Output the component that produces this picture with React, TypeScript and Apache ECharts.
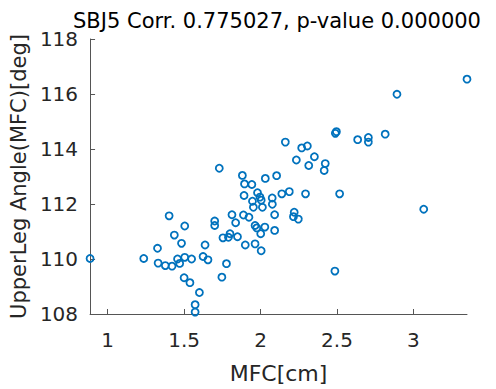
import React, { useEffect, useRef } from "react";
import * as echarts from "echarts";

const titleText = "SBJ5 Corr. 0.775027, p-value 0.000000";
const xName = "MFC[cm]";
const yName = "UpperLeg Angle(MFC)[deg]";

const mfc = [
  0.885, 1.236, 1.326, 1.402, 1.504, 1.436, 1.483, 1.33, 1.377, 1.421,
  1.457, 1.471, 1.504, 1.549, 1.5, 1.538, 1.6, 1.572, 1.572, 1.637,
  1.624, 1.656, 1.7, 1.7, 1.747, 1.777, 1.754, 1.79, 1.8, 1.849,
  1.813, 1.837, 1.888, 1.924, 1.9, 1.964, 2.004, 1.964, 1.975, 2.001,
  2.028, 2.092, 2.092, 1.892, 1.947, 1.953, 1.98, 1.996, 2.004, 2.012,
  2.076, 2.077, 2.139, 2.188, 1.895, 1.943, 2.031, 2.105, 1.881, 1.73,
  2.162, 2.269, 2.306, 2.352, 2.234, 2.315, 2.423, 2.416, 2.496, 2.489,
  2.635, 2.705, 2.705, 2.815, 2.892, 3.35, 2.294, 2.517, 3.067, 2.22,
  2.215, 2.247, 2.486,
];

const angle = [
  110.02, 110.02, 110.39, 111.57, 111.2, 110.87, 110.57, 109.85, 109.76, 109.74,
  110.0, 109.84, 110.06, 110.0, 109.32, 109.14, 108.78, 108.34, 108.07, 110.51,
  110.09, 109.97, 111.38, 111.22, 109.34, 109.83, 110.77, 110.79, 110.92, 110.81,
  111.61, 111.32, 111.6, 111.52, 110.51, 110.55, 110.3, 111.22, 111.13, 110.92,
  111.16, 111.04, 111.61, 112.31, 112.1, 111.88, 112.41, 112.25, 112.14, 111.88,
  112.22, 111.99, 112.37, 112.45, 112.73, 112.71, 112.93, 113.03, 113.04, 113.3,
  114.25, 114.04, 114.11, 113.72, 113.6, 113.4, 113.47, 113.22, 114.63, 114.57,
  114.34, 114.42, 114.25, 114.54, 115.99, 116.54, 112.37, 112.37, 111.81, 111.7,
  111.54, 111.45, 109.56,
];

const xTicks = [1, 1.5, 2, 2.5, 3];
const yTicks = [108, 110, 112, 114, 116, 118];

const FONT = "'DejaVu Sans', sans-serif";

export default function App() {
  const ref = useRef<HTMLDivElement>(null);
  useEffect(() => {
    if (!ref.current) return;
    const chart = echarts.init(ref.current, undefined, { renderer: "svg" });
    const xMin = Math.min(...mfc);
    const xMax = Math.max(...mfc);
    chart.setOption({
      animation: false,
      backgroundColor: "#ffffff",
      title: {
        text: titleText,
        left: 277,
        top: 13,
        padding: 0,
        textAlign: "center",
        textStyle: {
          fontFamily: FONT,
          fontSize: 21,
          lineHeight: 16,
          fontWeight: "normal",
          color: "#000000",
        },
      },
      grid: { left: 81, right: 29, top: 39, bottom: 70, containLabel: false },
      xAxis: {
        type: "value",
        min: xMin,
        max: xMax,
        name: xName,
        nameLocation: "middle",
        nameGap: 48,
        nameTextStyle: { fontFamily: FONT, fontSize: 22, color: "#262626" },
        axisLine: { show: true, lineStyle: { color: "#555555", width: 1 } },
        axisTick: {
          show: true,
          inside: true,
          length: 5,
          customValues: xTicks,
          lineStyle: { color: "#555555" },
        },
        axisLabel: {
          customValues: xTicks,
          margin: 16,
          fontFamily: FONT,
          fontSize: 20,
          color: "#262626",
          formatter: (v: number) => String(v),
        },
        splitLine: { show: false },
      },
      yAxis: {
        type: "value",
        min: 108,
        max: 118,
        interval: 2,
        name: yName,
        nameLocation: "middle",
        nameGap: 49,
        nameTextStyle: { fontFamily: FONT, fontSize: 21, color: "#262626" },
        axisLine: { show: true, lineStyle: { color: "#555555", width: 1 } },
        axisTick: {
          show: true,
          inside: true,
          length: 5,
          customValues: yTicks,
          lineStyle: { color: "#555555" },
        },
        axisLabel: {
          customValues: yTicks,
          margin: 12,
          fontFamily: FONT,
          fontSize: 20,
          lineHeight: 16,
          color: "#262626",
        },
        splitLine: { show: false },
      },
      series: [
        {
          type: "scatter",
          data: mfc.map((x, i) => [x, angle[i]]),
          symbol: "circle",
          symbolSize: 7,
          itemStyle: {
            color: "rgba(0,0,0,0)",
            borderColor: "#0072BD",
            borderWidth: 1.8,
            opacity: 1,
          },
          clip: false,
        },
      ],
    });
    return () => chart.dispose();
  }, []);
  return (
    <div
      ref={ref}
      style={{ position: "fixed", left: 0, top: 0, width: 496, height: 389 }}
    />
  );
}
